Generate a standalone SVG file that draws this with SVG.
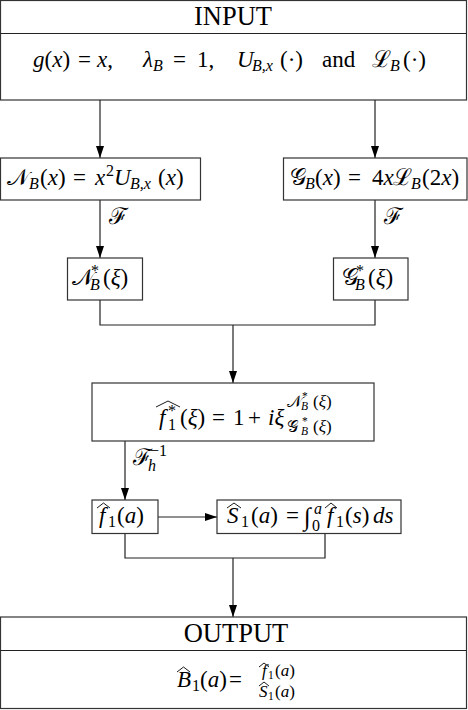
<svg xmlns="http://www.w3.org/2000/svg" width="468" height="710" viewBox="0 0 468 710">
<defs>
<marker id="ah" markerUnits="userSpaceOnUse" markerWidth="12" markerHeight="16" refX="15" refY="5" orient="auto" viewBox="0 0 15 10">
<path d="M0,0 L15,5 L0,10 Z" fill="#000"/>
</marker>
<style>
.box{fill:#fff;stroke:#333;stroke-width:1.2}
.ln{fill:none;stroke:#222;stroke-width:1.2}
.ar{fill:none;stroke:#222;stroke-width:1.2;marker-end:url(#ah)}
.hat{fill:none;stroke:#000;stroke-width:0.9}
text{font-family:"Liberation Serif","DejaVu Serif",serif;font-size:23px;fill:#000}
.big{font-size:26.5px}
.i{font-style:italic}
.s{font-size:16px}
.fs{font-size:17px}
.ss{font-size:11.5px}
.int{font-size:25px}
</style>
</defs>
<rect width="468" height="710" fill="#fff"/>

<g id="input">
<rect class="box" x="0.5" y="0.5" width="466" height="99.5"/>
<line class="ln" x1="0.5" y1="33.5" x2="466.5" y2="33.5"/>
<text class="big" x="233" y="25" text-anchor="middle">INPUT</text>
<text y="67"><tspan x="33" class="i">g</tspan>(<tspan class="i">x</tspan>)<tspan x="78">=</tspan><tspan x="97" class="i">x</tspan>,</text>
<text y="67"><tspan x="143" class="i">λ</tspan><tspan class="s i" x="153" y="71">B</tspan><tspan x="173" y="67">=</tspan><tspan x="197">1,</tspan></text>
<text y="67"><tspan x="237" class="i">U</tspan><tspan class="s i" x="252" y="71">B,x</tspan><tspan x="280" y="67">(·)</tspan></text>
<text x="322" y="67">and</text>
<text y="67"><tspan x="372">ℒ</tspan><tspan class="s i" x="390" y="71">B</tspan><tspan x="403" y="67">(·)</tspan></text>
</g>

<g id="connectors">
<path class="ar" d="M100,100 V158"/>
<path class="ar" d="M375,100 V158"/>
<path class="ar" d="M100,200 V258"/>
<path class="ar" d="M375,200 V258"/>
<path class="ln" d="M100,300 V325 H375 V300"/>
<path class="ar" d="M233,325 V383"/>
<path class="ar" d="M125,441 V500"/>
<path class="ar" d="M158,517 H217"/>
<path class="ln" d="M125,533 V558 H325 V533"/>
<path class="ar" d="M233,558 V617"/>
<text x="109" y="224">ℱ</text>
<text x="384" y="224">ℱ</text>
<text y="465"><tspan x="133">ℱ</tspan><tspan class="s i" x="148" y="471">h</tspan><tspan class="s" x="150" y="456">−1</tspan></text>
</g>

<g id="nb">
<rect class="box" x="0.5" y="158" width="200" height="42"/>
<text y="185"><tspan x="7">𝒩</tspan><tspan class="s i" x="29" y="189">B</tspan><tspan x="40" y="185">(</tspan><tspan class="i">x</tspan>)<tspan x="73">=</tspan><tspan x="95" class="i">x</tspan><tspan class="s" x="106" y="176">2</tspan><tspan class="i" x="114" y="185">U</tspan><tspan class="s i" x="130" y="189">B,x</tspan><tspan x="158" y="185">(</tspan><tspan class="i">x</tspan>)</text>
</g>

<g id="gb">
<rect class="box" x="283.5" y="158" width="183.5" height="42"/>
<text y="185"><tspan x="290">𝒢</tspan><tspan class="s i" x="305" y="189">B</tspan><tspan x="315" y="185">(</tspan><tspan class="i">x</tspan>)<tspan x="348">=</tspan><tspan x="372">4</tspan><tspan class="i">x</tspan><tspan x="393">ℒ</tspan><tspan class="s i" x="411" y="189">B</tspan><tspan x="422" y="185">(2</tspan><tspan class="i">x</tspan>)</text>
</g>

<g id="nbstar">
<rect class="box" x="67.5" y="258" width="75" height="42"/>
<text y="285"><tspan x="72">𝒩</tspan><tspan class="s" x="91" y="276">*</tspan><tspan class="s i" x="90" y="290">B</tspan><tspan x="103" y="285">(</tspan><tspan class="i">ξ</tspan>)</text>
</g>

<g id="gbstar">
<rect class="box" x="333.5" y="258" width="74.5" height="42"/>
<text y="285"><tspan x="342">𝒢</tspan><tspan class="s" x="356" y="276">*</tspan><tspan class="s i" x="355" y="290">B</tspan><tspan x="368" y="285">(</tspan><tspan class="i">ξ</tspan>)</text>
</g>

<g id="f1star">
<rect class="box" x="92" y="383" width="282" height="58"/>
<polyline class="hat" points="156,407 168,401 180,407"/>
<text y="425"><tspan x="159" class="i">f</tspan><tspan class="s" x="168" y="416">*</tspan><tspan class="s" x="168" y="430">1</tspan><tspan x="180" y="425">(</tspan><tspan class="i">ξ</tspan>)<tspan x="212">=</tspan><tspan x="233">1</tspan><tspan x="248">+</tspan><tspan x="268" class="i">iξ</tspan></text>
<text class="s" y="407"><tspan x="287">𝒩</tspan><tspan class="ss" x="302" y="400">*</tspan><tspan class="ss i" x="301" y="410">B</tspan><tspan class="fs" x="313" y="407">(</tspan><tspan class="fs i">ξ</tspan><tspan class="fs">)</tspan></text>
<text class="s" y="432"><tspan x="287">𝒢</tspan><tspan class="ss" x="302" y="425">*</tspan><tspan class="ss i" x="301" y="435">B</tspan><tspan class="fs" x="313" y="432">(</tspan><tspan class="fs i">ξ</tspan><tspan class="fs">)</tspan></text>
</g>

<g id="f1a">
<rect class="box" x="92" y="500" width="66" height="33.5"/>
<polyline class="hat" points="97,508 103.5,503 110,508"/>
<text y="523"><tspan x="99" class="i">f</tspan><tspan class="s" x="108" y="527">1</tspan><tspan x="117" y="523">(</tspan><tspan class="i">a</tspan>)</text>
</g>

<g id="s1a">
<rect class="box" x="217" y="500" width="184" height="33.5"/>
<polyline class="hat" points="227,508 234,503 241,508"/>
<polyline class="hat" points="325,508 331,503 337,508"/>
<text y="523"><tspan x="227" class="i">S</tspan><tspan class="s" x="241" y="527">1</tspan><tspan x="251" y="523">(</tspan><tspan class="i">a</tspan>)<tspan x="286">=</tspan><tspan class="int" x="304" y="525">∫</tspan><tspan class="s i" x="314" y="514">a</tspan><tspan class="s" x="312" y="531">0</tspan><tspan x="327" y="523" class="i">f</tspan><tspan class="s" x="336" y="527">1</tspan><tspan x="345" y="523">(</tspan><tspan class="i">s</tspan>)<tspan x="373" class="i">ds</tspan></text>
</g>

<g id="output">
<rect class="box" x="0.5" y="617" width="466" height="91.5"/>
<line class="ln" x1="0.5" y1="650.5" x2="466.5" y2="650.5"/>
<text class="big" x="236" y="642" text-anchor="middle">OUTPUT</text>
<polyline class="hat" points="177,672 183.5,667 190,672"/>
<text y="687"><tspan x="177" class="i">B</tspan><tspan class="s" x="192" y="691">1</tspan><tspan x="200" y="687">(</tspan><tspan class="i">a</tspan>)<tspan x="229">=</tspan></text>
<polyline class="hat" points="259,667 264,663 269,667"/>
<text class="fs" y="676"><tspan x="262" class="i">f</tspan><tspan class="ss" x="268" y="679">1</tspan><tspan x="275" y="676">(</tspan><tspan class="i">a</tspan>)</text>
<polyline class="hat" points="259,686 264,682 269,686"/>
<text class="fs" y="697"><tspan x="259" class="i">S</tspan><tspan class="ss" x="268" y="700">1</tspan><tspan x="275" y="697">(</tspan><tspan class="i">a</tspan>)</text>
</g>
</svg>
